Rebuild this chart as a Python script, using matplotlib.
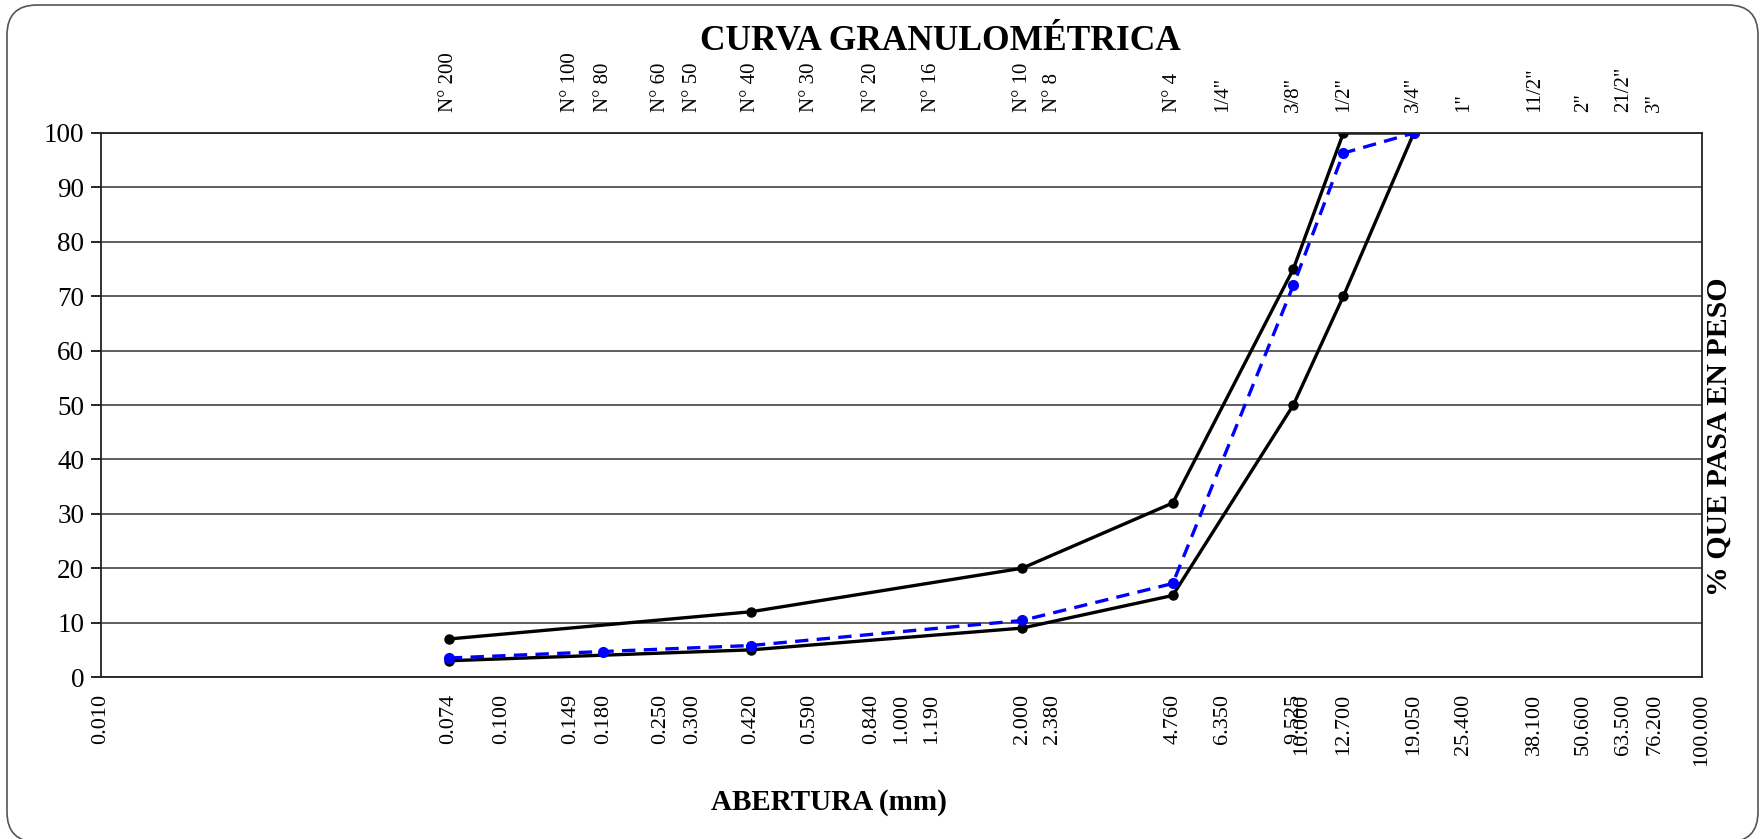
import numpy as np
import matplotlib.pyplot as plt
from matplotlib.patches import FancyBboxPatch

plt.rcParams['font.family'] = ['Liberation Serif', 'DejaVu Serif']

# sieve openings (mm) shown on the axis
aberturas = [0.010, 0.074, 0.100, 0.149, 0.180, 0.250, 0.300, 0.420, 0.590, 0.840,
             1.000, 1.190, 2.000, 2.380, 4.760, 6.350, 9.525, 10.000, 12.700,
             19.050, 25.400, 38.100, 50.600, 63.500, 76.200, 100.000]

# sieve names on top
tamices_x = [0.074, 0.149, 0.180, 0.250, 0.300, 0.420, 0.590, 0.840, 1.190,
             2.000, 2.380, 4.760, 6.350, 9.525, 12.700, 19.050, 25.400,
             38.100, 50.600, 63.500, 76.200]
tamices = ['N° 200', 'N° 100', 'N° 80', 'N° 60', 'N° 50', 'N° 40', 'N° 30',
           'N° 20', 'N° 16', 'N° 10', 'N° 8', 'N° 4', '1/4"', '3/8"', '1/2"',
           '3/4"', '1"', '11/2"', '2"', '21/2"', '3"']

# limits
lim_x = [0.074, 0.420, 2.000, 4.760, 9.525, 12.700, 19.050]
lim_sup = [7, 12, 20, 32, 75, 100, 100]
lim_inf = [3, 5, 9, 15, 50, 70, 100]

# sample
mues_x = [0.074, 0.180, 0.420, 2.000, 4.760, 9.525, 12.700, 19.050]
mues_y = [3.5, 4.7, 5.8, 10.4, 17.2, 72.0, 96.3, 100.0]

fig = plt.figure(figsize=(17.62, 8.39), dpi=100)
ax = fig.add_axes([0.0573, 0.193, 0.9087, 0.6485])

ax.plot(lim_x, lim_sup, 'k-', linewidth=2.4, marker='o', markersize=6.5)
ax.plot(lim_x, lim_inf, 'k-', linewidth=2.4, marker='o', markersize=6.5)
ax.plot(mues_x, mues_y, color='#0000ff', linestyle='--', linewidth=2.4,
        marker='o', markersize=7, dashes=(4, 2.5))

ax.set_xscale('log')
ax.set_xlim(0.01, 100)
ax.set_ylim(0, 100)

ax.set_xticks(aberturas)
ax.set_xticklabels(['%.3f' % v for v in aberturas], rotation=90, fontsize=16)
ax.xaxis.set_minor_locator(plt.NullLocator())
ax.tick_params(axis='x', length=0, pad=12)

ax.set_yticks(range(0, 101, 10))
ax.tick_params(axis='y', labelsize=19.5, length=7, width=1.2, direction='out', pad=5)
ax.yaxis.grid(True, color='#333333', linewidth=1.1)
ax.set_axisbelow(True)

for s in ax.spines.values():
    s.set_linewidth(1.3)
    s.set_color('#222222')

top = ax.secondary_xaxis('top')
top.set_xticks(tamices_x)
top.set_xticklabels(tamices, rotation=90, fontsize=15)
top.xaxis.set_minor_locator(plt.NullLocator())
top.tick_params(length=0, pad=15)
top.spines['top'].set_visible(False)

fig.text(0.5335, 0.951, 'CURVA GRANULOMÉTRICA', ha='center', va='center',
         fontsize=25.5, fontweight='bold')
fig.text(0.4705, 0.043, 'ABERTURA (mm)', ha='center', va='center',
         fontsize=21, fontweight='bold')
fig.text(0.9755, 0.479, '% QUE PASA EN PESO', ha='center', va='center',
         rotation=90, fontsize=21.5, fontweight='bold')

border = FancyBboxPatch((7, -3), 1751, 837,
                        boxstyle='round,pad=0,rounding_size=30',
                        transform=None, facecolor='none',
                        edgecolor='#555555', linewidth=1.2)
fig.patches.append(border)

fig.savefig('out.png', dpi=100)
